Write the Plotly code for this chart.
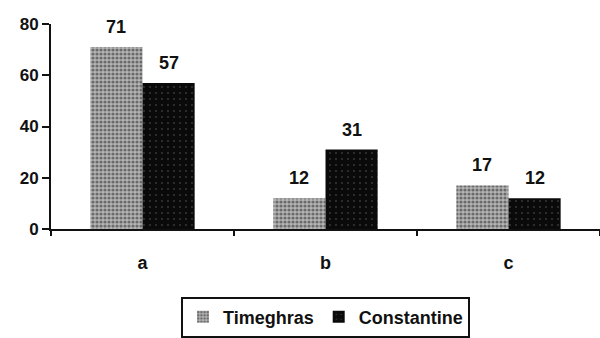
import plotly.graph_objects as go

categories = ["a", "b", "c"]
timeghras = [71, 12, 17]
constantine = [57, 31, 12]

FONT = "Liberation Sans, Arial, sans-serif"

fig = go.Figure()
fig.add_trace(go.Bar(
    name="Timeghras", x=categories, y=timeghras,
    marker=dict(color="#b4b4b4", line=dict(width=0),
                pattern=dict(shape=".", fgcolor="#222222", size=4, solidity=0.5)),
))
fig.add_trace(go.Bar(
    name="Constantine", x=categories, y=constantine,
    marker=dict(color="#0a0a0a", line=dict(width=0),
                pattern=dict(shape=".", fgcolor="#666666", size=6, solidity=0.08)),
))

# value labels above each bar
for i, cat in enumerate(categories):
    for val, off in ((timeghras[i], -0.143), (constantine[i], 0.143)):
        fig.add_annotation(x=i + off, y=val, text=f"<b>{val}</b>", showarrow=False,
                           yanchor="bottom", yshift=8,
                           font=dict(family=FONT, size=18, color="#111"))

fig.update_layout(
    width=600, height=338,
    margin=dict(l=51, r=0, t=24, b=106),
    paper_bgcolor="white", plot_bgcolor="white",
    barmode="group", bargap=0.43, bargroupgap=0,
    font=dict(family=FONT, size=16, color="#111"),
    showlegend=True,
    legend=dict(orientation="h", x=0.5, xanchor="center", y=-0.33, yanchor="top",
                bordercolor="#111", borderwidth=2, bgcolor="white",
                font=dict(family=FONT, size=18, color="#111", weight="bold"),
                itemwidth=30, tracegroupgap=0),
)
fig.update_xaxes(
    type="category", range=[-0.5, 2.5],
    showline=True, linecolor="#111", linewidth=2,
    ticks="outside", ticklen=5, tickwidth=1.5, tickcolor="#111",
    tickson="boundaries", ticklabelstandoff=16,
    tickfont=dict(family=FONT, size=18, color="#111", weight="bold"),
    showgrid=False, zeroline=False,
)
fig.update_yaxes(
    range=[0, 80], tickvals=[0, 20, 40, 60, 80],
    showline=True, linecolor="#111", linewidth=2,
    ticks="outside", ticklen=7, tickwidth=1.5, tickcolor="#111",
    tickfont=dict(family=FONT, size=17, color="#111", weight="bold"),
    showgrid=False, zeroline=False,
)

fig.write_html("out.html")
